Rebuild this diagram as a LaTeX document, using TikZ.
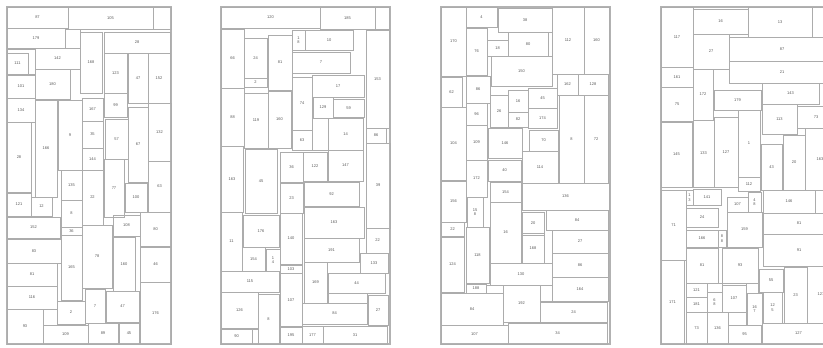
\documentclass[tikz,border=0pt]{standalone}
\usepackage{fontspec}
\setmainfont{Liberation Sans}
\begin{document}
\begin{tikzpicture}[x=1pt, y=-1pt,
    blocco/.style={draw=gray!65, line width=0.5pt},
    cornice/.style={draw=gray!60, line width=1.2pt},
    etichetta/.style={font=\fontsize{4}{4.3}\selectfont, text=gray!70!black, align=center, inner sep=0pt}]
    % Area della figura
    \useasboundingbox (0,0) rectangle (823,348);
    \clip (0,0) rectangle (823,348);

    % Primo schema
    \draw[cornice] (7,7) rectangle (171,344);
    \foreach \a/\b/\c/\d/\t in {7/7/68/28/87, 68/7/153/29/105, 153/7/171/29/{},
        7/28/65/48/179, 65/29/80/48/{}, 80/32/102/93/168, 104/32/170/53/28,
        7/49/35/74/{}, 7/53/28/74/111, 35/48/80/69/142, 104/53/127/93/123,
        128/53/148/103/47, 148/53/170/103/152, 7/75/35/98/101, 35/69/70/99/180,
        7/98/35/122/134, 7/122/31/192/28, 35/100/57/197/166, 58/100/82/170/9,
        82/98/103/121/167, 104/93/127/117/99, 105/119/128/159/57, 128/107/148/182/67,
        148/103/171/161/132, 82/121/103/148/35, 82/148/103/170/144, 104/159/124/217/77,
        61/170/82/200/135, 82/170/103/225/22, 125/183/147/212/100, 148/161/171/212/63,
        7/193/31/216/121, 31/197/52/216/12, 61/200/82/227/8, 7/217/60/238/152,
        61/227/82/235/36, 113/215/140/236/108, 140/212/171/246/80, 7/239/61/263/83,
        61/235/82/300/165, 82/225/112/288/78, 113/237/135/291/160, 140/247/171/282/46,
        7/263/57/286/81, 7/286/57/309/116, 57/301/85/324/2, 85/289/105/323/7,
        106/291/139/322/47, 140/282/171/344/176, 7/309/43/344/93, 43/325/88/344/109,
        88/323/118/344/89, 119/323/139/344/45}
    {
        \draw[blocco] (\a,\b) rectangle (\c,\d);
        \node[etichetta] at ({(\a+\c)/2},{(\b+\d)/2}) {\t};
    }

    % Secondo schema
    \draw[cornice] (221,7) rectangle (390,344);
    \foreach \a/\b/\c/\d/\t in {221/7/320/28/120, 320/7/375/29/185, 375/7/389/29/{},
        221/29/244/88/66, 244/38/267/78/24, 244/78/267/87/2, 268/35/292/90/81,
        292/30/305/50/{1\\8}, 305/30/353/50/10, 292/52/350/73/7, 366/30/389/128/153,
        312/75/364/97/17, 292/77/312/130/74, 313/97/333/118/129, 333/99/364/117/59,
        221/88/244/146/88, 244/93/268/148/119, 268/91/291/148/160, 292/130/312/150/63,
        312/118/328/150/{}, 328/118/363/150/14, 366/128/386/143/86, 221/146/243/212/163,
        245/149/277/213/45, 280/152/303/182/36, 303/152/327/181/122, 328/150/363/181/147,
        366/143/390/228/39, 280/183/303/213/23, 304/182/359/206/92, 304/207/364/238/163,
        221/212/242/271/11, 243/215/279/247/176, 280/213/302/264/140, 366/228/389/253/22,
        304/238/359/262/191, 242/247/265/271/154, 266/249/280/271/{1\\4},
        280/265/302/273/103, 360/253/388/273/133, 221/271/279/292/115,
        304/262/327/303/169, 328/273/385/293/44, 328/293/367/303/{}, 280/273/302/327/107,
        221/292/258/328/126, 258/294/279/344/8, 302/303/367/324/84, 368/295/388/325/27,
        221/329/252/344/90, 252/329/258/344/{}, 280/326/302/344/195, 302/326/323/344/177,
        323/326/387/344/31}
    {
        \draw[blocco] (\a,\b) rectangle (\c,\d);
        \node[etichetta] at ({(\a+\c)/2},{(\b+\d)/2}) {\t};
    }

    % Terzo schema
    \draw[cornice] (441,7) rectangle (610,344);
    \foreach \a/\b/\c/\d/\t in {441/7/466/76/170, 466/7/497/27/4, 498/8/552/32/38,
        552/7/584/74/112, 584/7/609/74/160, 466/28/487/75/76, 487/40/508/56/18,
        508/32/548/56/80, 491/56/552/86/150, 441/77/462/107/62, 466/76/490/103/86,
        557/74/578/95/162, 578/74/608/95/128, 508/90/528/112/16, 528/88/557/108/45,
        466/103/487/125/96, 490/95/508/127/26, 508/112/528/127/82, 528/108/557/128/174,
        441/107/466/180/104, 466/125/487/160/109, 488/128/522/158/146, 529/130/558/151/70,
        559/95/584/183/8, 584/95/608/183/72, 466/160/487/197/172, 488/160/521/181/40,
        522/151/558/183/114, 441/181/466/222/156, 490/182/521/202/154,
        522/183/609/210/136, 467/197/483/227/{15\\8}, 522/212/544/235/20,
        546/210/608/230/84, 441/222/464/236/22, 490/202/521/263/16, 441/237/464/292/124,
        466/227/489/283/118, 522/233/544/263/168, 552/230/608/253/27, 552/253/608/277/86,
        490/263/552/285/130, 466/284/486/293/188, 486/285/503/293/{}, 552/277/608/301/164,
        503/285/540/322/192, 540/285/552/301/{}, 441/293/503/325/84, 540/302/607/322/24,
        441/325/508/344/107, 508/323/607/344/34}
    {
        \draw[blocco] (\a,\b) rectangle (\c,\d);
        \node[etichetta] at ({(\a+\c)/2},{(\b+\d)/2}) {\t};
    }

    % Quarto schema (tagliato a destra)
    \draw[cornice] (661,7) rectangle (835,344);
    \foreach \a/\b/\c/\d/\t in {661/7/693/67/117, 693/9/748/34/16, 748/7/812/37/13,
        812/7/835/37/{}, 693/34/729/69/27, 729/37/835/61/87, 661/67/693/87/161,
        729/61/835/83/21, 693/69/713/120/172, 714/90/761/110/179, 762/83/819/104/143,
        661/87/693/121/75, 762/104/797/134/113, 797/106/835/128/73, 661/122/692/187/145,
        693/120/714/187/133, 714/117/738/187/127, 738/110/760/177/1, 761/144/782/190/43,
        783/135/805/190/20, 805/128/835/190/163, 738/177/760/191/112,
        686/190/693/205/{1\\3}, 693/189/721/205/141, 661/190/686/260/71,
        727/197/748/212/107, 748/192/761/212/{4\\8}, 763/190/815/213/146,
        815/190/835/213/{}, 686/208/718/227/24, 763/213/835/234/81, 727/212/762/247/159,
        718/230/726/247/{8\\8}, 686/230/718/247/166, 763/234/835/266/91,
        686/248/718/283/81, 722/248/758/283/93, 661/260/684/344/171, 759/269/783/292/55,
        784/267/807/323/23, 807/266/835/323/127, 686/283/707/297/121, 707/283/722/292/{},
        686/297/707/312/181, 707/292/722/312/{6\\8}, 722/285/746/312/107,
        746/283/758/293/{}, 747/293/762/325/{16\\7}, 763/292/782/323/{12\\5},
        686/312/707/344/73, 707/312/728/344/136, 728/312/746/325/{}, 728/325/761/344/95,
        762/323/835/344/127}
    {
        \draw[blocco] (\a,\b) rectangle (\c,\d);
        \node[etichetta] at ({(\a+\c)/2},{(\b+\d)/2}) {\t};
    }
\end{tikzpicture}
\end{document}
